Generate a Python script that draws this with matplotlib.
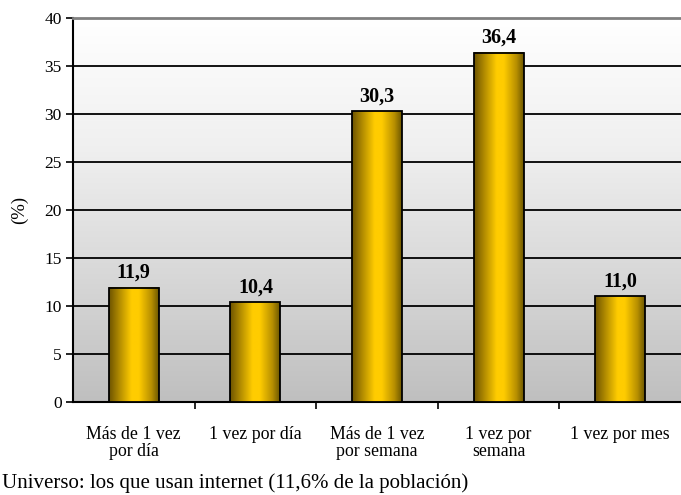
import numpy as np
import matplotlib.pyplot as plt
from matplotlib.colors import LinearSegmentedColormap

categories = ["Más de 1 vez\npor día", "1 vez por día", "Más de 1 vez\npor semana",
              "1 vez por\nsemana", "1 vez por mes"]
values = [11.9, 10.4, 30.3, 36.4, 11.0]
labels = ["11,9", "10,4", "30,3", "36,4", "11,0"]
yticks = [0, 5, 10, 15, 20, 25, 30, 35, 40]

plt.rcParams['font.family'] = ['Liberation Serif', 'DejaVu Serif']

fig = plt.figure(figsize=(6.81, 4.95), dpi=100)
ax = fig.add_axes([73 / 681, 1 - 402 / 495, 1 - 73 / 681, (402 - 18) / 495])

# background: vertical gradient white -> gray
bg = LinearSegmentedColormap.from_list("bg", ["#bfbfbf", "#d8d8d8", "#f0f0f0", "#ffffff"])
grad = np.linspace(0, 1, 256).reshape(-1, 1)
ax.imshow(grad, cmap=bg, aspect='auto', extent=[0, 1, 0, 1],
          transform=ax.transAxes, origin='lower', zorder=0)

# golden cylinder-like gradient for bars
gold = LinearSegmentedColormap.from_list(
    "gold", [(0.0, "#6e5400"), (0.2, "#b08a00"), (0.45, "#ffcc00"),
             (0.6, "#ffcc00"), (0.85, "#b89000"), (1.0, "#6e5800")])
hgrad = np.linspace(0, 1, 128).reshape(1, -1)

x = np.arange(len(values))
w = 0.41
for xi, v, lab in zip(x, values, labels):
    ax.imshow(hgrad, cmap=gold, aspect='auto', extent=[xi - w / 2, xi + w / 2, 0, v],
              origin='lower', zorder=3, interpolation='bilinear')
    ax.text(xi, v + 0.5, lab, ha='center', va='bottom', fontsize=14.5, fontweight='bold')
ax.bar(x, values, width=w, facecolor='none', edgecolor='black', linewidth=1.3, zorder=4)

ax.set_xlim(-0.5, len(values) - 0.5)
ax.set_ylim(0, 40)
ax.set_yticks(yticks)
ax.tick_params(axis='y', labelsize=12.5, length=5, width=1.2, direction='out', pad=3)
ax.yaxis.grid(True, color='black', linewidth=1.3, zorder=1)
ax.set_axisbelow(True)

ax.set_xticks(x)
ax.set_xticklabels(categories, fontsize=12.8, linespacing=1.0)
ax.tick_params(axis='x', length=0, pad=17)
ax.set_xticks(np.arange(0.5, len(values) - 0.5, 1), minor=True)
ax.tick_params(axis='x', which='minor', length=5, width=1.2, direction='out')

ax.spines['right'].set_visible(False)
ax.spines['top'].set_color('#808080')
ax.spines['top'].set_linewidth(2)
ax.spines['left'].set_linewidth(1.5)
ax.spines['bottom'].set_linewidth(1.5)

ax.set_ylabel("(%)", fontsize=13.5, labelpad=12)

fig.text(2 / 681, 1 - 488 / 495, "Universo: los que usan internet (11,6% de la población)",
         fontsize=15, ha='left', va='baseline')

fig.savefig("out.png", dpi=100)
